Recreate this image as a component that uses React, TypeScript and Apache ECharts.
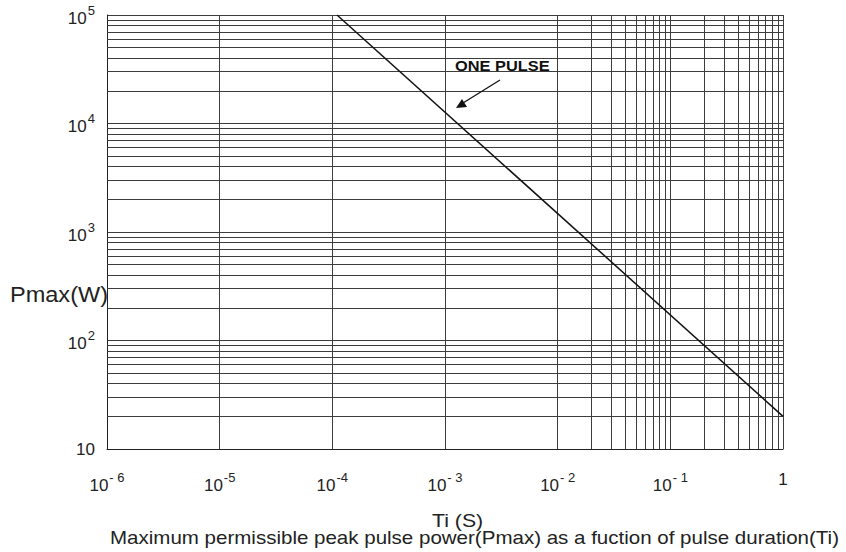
import React, { useEffect, useRef } from "react";
import * as echarts from "echarts";

const xDecades = [-6, -5, -4, -3, -2, -1];
const yDecades = [1, 2, 3, 4];
const minorMultipliers = [2, 3, 4, 5, 6, 7, 8, 9];
const xExponentLabels: Record<string, string> = { "-6": "- 6", "-5": "-5", "-4": "-4", "-3": "- 3", "-2": "- 2", "-1": "- 1" };
const yExponentLabels: Record<string, string> = { "2": "2", "3": "3", "4": "4", "5": "5" };
const onePulse: [number, number][] = [
  [1.1e-4, 100000],
  [1, 20],
];
const gridExtent: [number, number][] = [
  [1e-6, 10],
  [1, 100000],
];
const captionText = "Maximum permissible peak pulse power(Pmax) as a fuction of pulse duration(Ti)";

const expOf = (v: number) => Math.round(Math.log10(v));
const FONT = "Liberation Sans, Arial, sans-serif";

export default function App() {
  const ref = useRef<HTMLDivElement>(null);
  useEffect(() => {
    if (!ref.current) return;
    const chart = echarts.init(ref.current, null, { renderer: "svg" });
    const gridColor = "#3c3c3c";
    const xMinor: any[] = [];
    xDecades.forEach((d) =>
      minorMultipliers.forEach((m) => xMinor.push({ xAxis: m * Math.pow(10, d) }))
    );
    const yMinor: any[] = [];
    yDecades.forEach((d) =>
      minorMultipliers.forEach((m) => yMinor.push({ yAxis: m * Math.pow(10, d) }))
    );
    const rich = {
      b: { fontSize: 17, color: "#222", fontFamily: FONT, padding: [6, 0, 0, 0] },
      p: { fontSize: 17, color: "#222", fontFamily: FONT },
      s: { fontSize: 13, color: "#222", fontFamily: FONT, verticalAlign: "top", padding: [0, 0, 8, 1] },
    };
    chart.setOption({
      animation: false,
      backgroundColor: "#ffffff",
      grid: { left: 107, right: 63, top: 15, bottom: 103 },
      xAxis: {
        type: "log",
        logBase: 10,
        min: 1e-6,
        max: 1,
        axisLine: { show: true, lineStyle: { color: "#222", width: 1 } },
        axisTick: { show: false },
        splitLine: { show: true, lineStyle: { color: gridColor, width: 1 } },
        axisLabel: {
          margin: 22,
          formatter: (v: number) => {
            const e = expOf(v);
            if (e === 0) return "{p|1}";
            return "{b|10}{s|" + (xExponentLabels[String(e)] ?? String(e)) + "}";
          },
          rich,
        },
      },
      yAxis: {
        type: "log",
        logBase: 10,
        min: 10,
        max: 100000,
        axisLine: { show: true, lineStyle: { color: "#222", width: 1 } },
        axisTick: { show: false },
        splitLine: { show: true, lineStyle: { color: gridColor, width: 1 } },
        axisLabel: {
          margin: 12,
          formatter: (v: number) => {
            const e = expOf(v);
            if (e === 1) return "{p|10}";
            return "{b|10}{s|" + (yExponentLabels[String(e)] ?? String(e)) + "}";
          },
          rich,
        },
      },
      series: [
        {
          type: "line",
          data: gridExtent,
          symbol: "none",
          silent: true,
          lineStyle: { opacity: 0 },
          z: 1,
          markLine: {
            silent: true,
            symbol: "none",
            label: { show: false },
            lineStyle: { color: gridColor, width: 1, type: "solid" },
            data: [...xMinor, ...yMinor],
          },
        },
        {
          type: "line",
          data: onePulse,
          symbol: "none",
          lineStyle: { color: "#111", width: 1.5 },
          z: 5,
        },
      ],
      graphic: [
        {
          type: "text",
          x: 10,
          y: 283,
          scaleX: 1.07,
          style: { text: "Pmax(W)", fontSize: 22, fill: "#222", fontFamily: FONT, verticalAlign: "top" },
        },
        {
          type: "text",
          x: 432,
          y: 511,
          scaleX: 1.12,
          style: { text: "Ti (S)", fontSize: 19, fill: "#222", fontFamily: FONT, verticalAlign: "top" },
        },
        {
          type: "text",
          x: 110,
          y: 529,
          scaleX: 1.14,
          style: { text: captionText, fontSize: 18, fill: "#222", fontFamily: FONT, verticalAlign: "top" },
        },
        {
          type: "text",
          x: 455,
          y: 59,
          scaleX: 1.17,
          style: { text: "ONE PULSE", fontSize: 14, fontWeight: "bold", fill: "#111", fontFamily: FONT, verticalAlign: "top" },
          z: 10,
        },
        {
          type: "line",
          shape: { x1: 500, y1: 80, x2: 463, y2: 103 },
          style: { stroke: "#111", lineWidth: 1.3 },
          z: 10,
        },
        {
          type: "polygon",
          shape: { points: [[456, 108], [462, 99], [467, 107]] },
          style: { fill: "#111" },
          z: 10,
        },
      ],
    });
    return () => chart.dispose();
  }, []);
  return (
    <div
      ref={ref}
      style={{ position: "absolute", left: 0, top: 0, width: 846, height: 552 }}
    />
  );
}
